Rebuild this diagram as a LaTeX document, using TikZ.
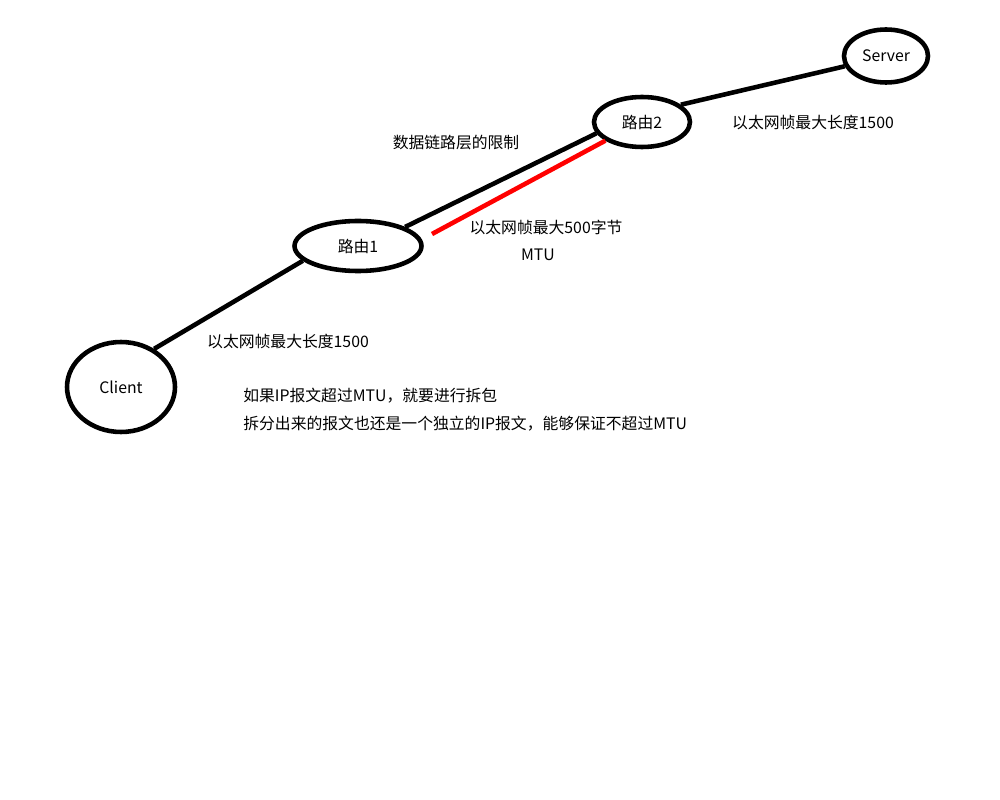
\documentclass[tikz,border=0pt]{standalone}
\usepackage{fontspec}
\newfontfamily\cjkfont{Noto Sans CJK SC}
\usepackage{tikz}
\usetikzlibrary{shapes.geometric}

\begin{document}
\begin{tikzpicture}[x=0.02cm,y=-0.02cm,
  host/.style={draw=black,ellipse,line width=2.6pt,inner sep=0pt,
               font=\cjkfont\fontsize{9}{11}\selectfont},
  lbl/.style={font=\cjkfont\fontsize{9}{11}\selectfont,inner sep=0pt},
  link/.style={draw=black,line width=2.6pt},
  mtulink/.style={draw=red,line width=2.6pt},
]
\useasboundingbox[fill=white] (0,0) rectangle (1000,800);
% hosts and routers
\node[host,minimum width=2.16cm,minimum height=1.8cm] (client) at (121,387) {Client};
\node[host,minimum width=2.54cm,minimum height=1.0cm] (r1) at (358,246) {路由1};
\node[host,minimum width=1.92cm,minimum height=1.0cm] (r2) at (642,122) {路由2};
\node[host,minimum width=1.68cm,minimum height=1.06cm] (server) at (886,56) {Server};
\coordinate (redstart) at (432,234);
% links
\draw[link] (client.49) -- (r1.195);
\draw[link] (r1.22) -- (r2.194);
\draw[mtulink] (redstart) -- (r2.207);
\draw[link] (r2.24) -- (server.194);
% labels
\node[lbl] (dl)   at (456,143) {数据链路层的限制};
\node[lbl] (f500) at (546,227) {以太网帧最大500字节};
\node[lbl] (mtu)  at (538,255) {MTU};
\node[lbl] (fsrv) at (813,123) {以太网帧最大长度1500};
\node[lbl] (fcli) at (288,341) {以太网帧最大长度1500};
\node[lbl,anchor=west] (note1) at (243,396) {如果IP报文超过MTU，就要进行拆包};
\node[lbl,anchor=west] (note2) at (243,424) {拆分出来的报文也还是一个独立的IP报文，能够保证不超过MTU};
\end{tikzpicture}
\end{document}
